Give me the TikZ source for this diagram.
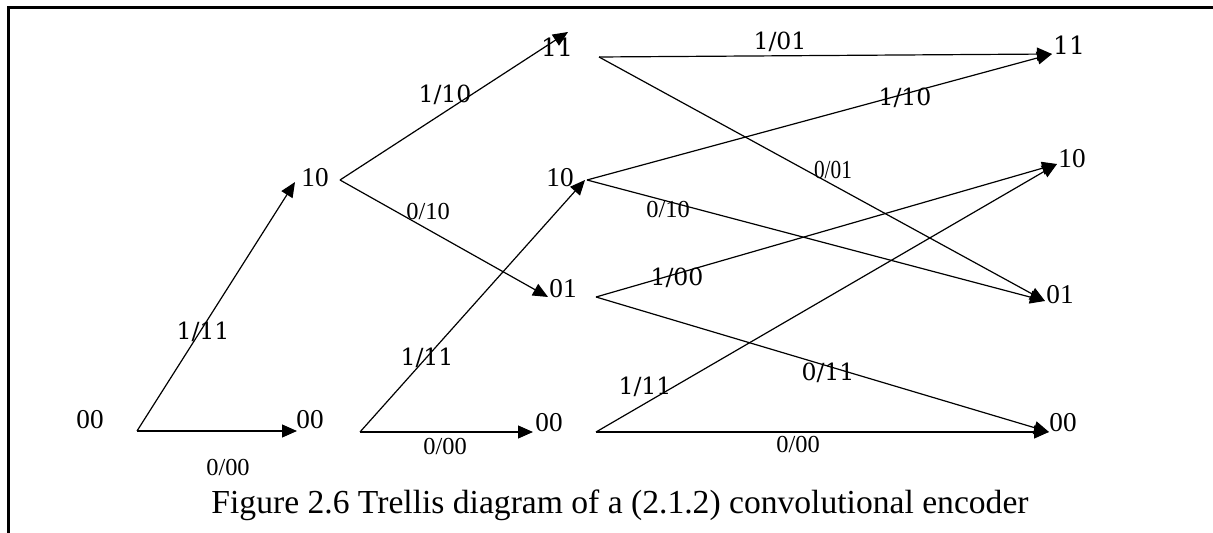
\documentclass[tikz,border=0pt]{standalone}
\usepackage{fontspec}
\setmainfont{Liberation Serif}
\newfontfamily\slabserif{DejaVu Serif}
\newfontfamily\narrowserif[FakeStretch=0.82]{Liberation Serif}
\usetikzlibrary{arrows.meta}

\begin{document}
\begin{tikzpicture}[
    x=0.5pt, y=-0.5pt,
    state/.style={inner sep=0pt, font=\fontsize{13.6}{15}\selectfont},
    statew/.style={inner sep=0pt, font=\slabserif\fontsize{12.5}{15}\selectfont},
    lbl/.style={inner sep=0pt, font=\fontsize{12.2}{14}\selectfont},
    lbw/.style={inner sep=0pt, font=\slabserif\fontsize{11.8}{13}\selectfont},
    lbn/.style={inner sep=0pt, font=\narrowserif\fontsize{13}{15}\selectfont},
    arrow/.style={-{Triangle[length=7.5pt, width=6.5pt]}, line width=0.6pt},
    frame/.style={line width=1.5pt}
]
\useasboundingbox (0,0) rectangle (1213,533);

% ── Frame ──
\draw[frame] (8,533) -- (8,8) -- (1213,8);

% ── States, column 0 ──
\node[state] (a00) at (90,420) {00};
\coordinate (a00o) at (137,431);

% ── States, column 1 ──
\node[state] (b10) at (315,178) {10};
\coordinate (b10i) at (295,182);
\coordinate (b10o) at (340,180);
\node[state] (b00) at (310,420) {00};
\coordinate (b00i) at (297,431);
\coordinate (b00o) at (360,432);

% ── States, column 2 ──
\node[statew] (c11) at (557,47) {11};
\coordinate (c11i) at (568,32);
\coordinate (c11o) at (599,57);
\node[state] (c10) at (560,178) {10};
\coordinate (c10i) at (585,180);
\coordinate (c10o) at (587,180);
\node[state] (c01) at (563,289) {01};
\coordinate (c01i) at (548,297);
\coordinate (c01o) at (596,297);
\node[state] (c00) at (549,423) {00};
\coordinate (c00i) at (533,432);
\coordinate (c00o) at (596,432);

% ── States, column 3 ──
\node[statew] (d11) at (1069,45) {11};
\coordinate (d11i) at (1052,54);
\node[state] (d10) at (1072,159) {10};
\coordinate (d10i) at (1057,164);
\node[state] (d01) at (1060,295) {01};
\coordinate (d01i) at (1045,301);
\node[state] (d00) at (1063,423) {00};
\coordinate (d00i) at (1049,432);

% ── Branches ──
\draw[arrow] (a00o) -- (b10i);
\draw[arrow] (a00o) -- (b00i);

\draw[arrow] (b10o) -- (c11i);
\draw[arrow] (b10o) -- (c01i);
\draw[arrow] (b00o) -- (c10i);
\draw[arrow] (b00o) -- (c00i);

\draw[arrow] (c11o) -- (d11i);
\draw[arrow] (c11o) -- (d01i);
\draw[arrow] (c10o) -- (d11i);
\draw[arrow] (c10o) -- (d01i);
\draw[arrow] (c01o) -- (d10i);
\draw[arrow] (c01o) -- (d00i);
\draw[arrow] (c00o) -- (d10i);
\draw[arrow] (c00o) -- (d00i);

% ── Branch labels ──
\node[lbw] (l1) at (203,332) {1/11};
\node[lbl] (l2) at (228,468) {0/00};
\node[lbw] (l3) at (445,95) {1/10};
\node[lbl] (l4) at (428,212) {0/10};
\node[lbw] (l5) at (427,358) {1/11};
\node[lbl] (l6) at (445,447) {0/00};
\node[lbw] (l7) at (780,42) {1/01};
\node[lbn] (l8) at (833,170) {0/01};
\node[lbw] (l9) at (905,98) {1/10};
\node[lbl] (l10) at (668,210) {0/10};
\node[lbw] (l11) at (677,278) {1/00};
\node[lbw] (l12) at (828,373) {0/11};
\node[lbw] (l13) at (645,387) {1/11};
\node[lbl] (l14) at (798,445) {0/00};

% ── Caption ──
\node[anchor=base, inner sep=0pt, font=\fontsize{16.8}{19}\selectfont] (cap) at (620,513)
    {Figure 2.6 Trellis diagram of a (2.1.2) convolutional encoder};

\end{tikzpicture}
\end{document}
